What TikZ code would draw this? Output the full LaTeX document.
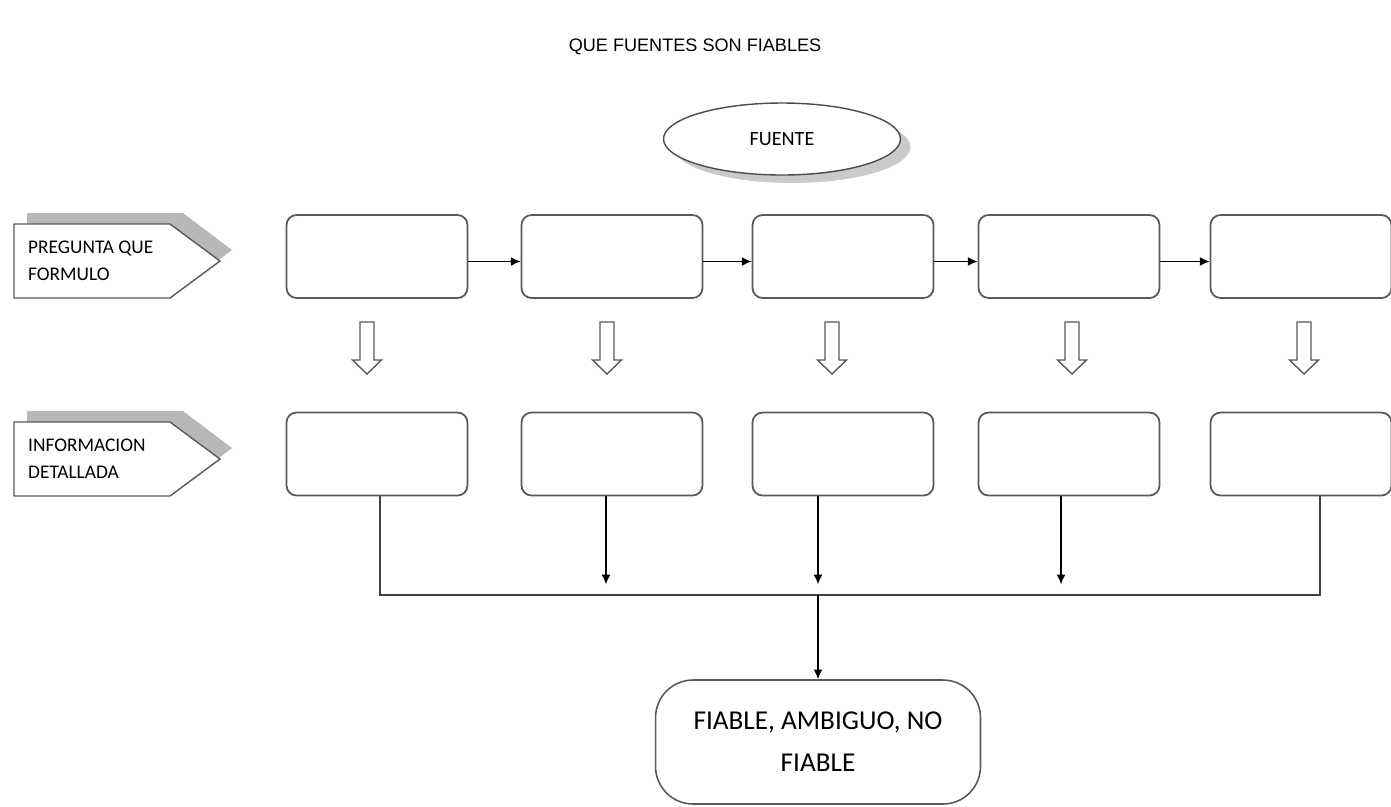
\documentclass[tikz,border=0pt]{standalone}
\usepackage{fontspec}
\setmainfont{Carlito}
\newfontfamily\arialfont{Liberation Sans}
\usetikzlibrary{shapes.geometric,shadows,arrows.meta}

\tikzset{
  caja/.style={draw=black!65, line width=1pt, rounded corners=0.2cm,
    minimum width=3.62cm, minimum height=1.66cm, fill=white},
  flecha/.style={line width=0.8pt, -{Latex[length=5.5pt,width=5pt]}},
  linea/.style={line width=0.8pt, draw=black!75},
  hueca/.style={draw=black!65, line width=0.8pt, fill=white},
  etiqueta/.style={draw=black!65, line width=0.8pt, fill=white},
  sombra/.style={fill=black!28, draw=none},
  texto/.style={anchor=west, align=left, font=\fontsize{11}{15.6}\selectfont},
}

\begin{document}
\begin{tikzpicture}[x=0.02cm,y=-0.02cm]
				%%%%% START %%%%%
				\def\yuno{256.5}
				\def\ydos{454}
				\def\ybus{595}
				\useasboundingbox (0,0) rectangle (1391,806);

				\node[font=\arialfont\fontsize{10.3}{12}\selectfont] (titulo) at (695,47) {QUE FUENTES SON FIABLES};

				\node[ellipse, draw=black!70, line width=0.8pt, fill=white, minimum width=4.74cm, minimum height=1.44cm,
				  drop shadow={shadow xshift=0.2cm, shadow yshift=-0.16cm, fill=black!35, opacity=0.6},
				  font=\fontsize{11.5}{14}\selectfont] (fuente) at (782,139) {FUENTE};

				% etiquetas de la izquierda
				\fill[sombra] (27,213) -- (183,213) -- (232,250) -- (183,287) -- (27,287) -- cycle;
				\draw[etiqueta] (14,224) -- (170,224) -- (220,261) -- (170,298) -- (14,298) -- cycle;
				\node[texto] (pregunta) at (22,261) {PREGUNTA QUE\\FORMULO};

				\fill[sombra] (27,411) -- (183,411) -- (232,448) -- (183,485) -- (27,485) -- cycle;
				\draw[etiqueta] (14,422) -- (170,422) -- (220,459) -- (170,496) -- (14,496) -- cycle;
				\node[texto] (informacion) at (22,459) {INFORMACION\\DETALLADA};

				% cajas
				\node[caja] (p1) at (377,\yuno) {};
				\node[caja] (p2) at (612,\yuno) {};
				\node[caja] (p3) at (843,\yuno) {};
				\node[caja] (p4) at (1069,\yuno) {};
				\node[caja] (p5) at (1301,\yuno) {};

				\node[caja] (i1) at (377,\ydos) {};
				\node[caja] (i2) at (612,\ydos) {};
				\node[caja] (i3) at (843,\ydos) {};
				\node[caja] (i4) at (1069,\ydos) {};
				\node[caja] (i5) at (1301,\ydos) {};

				\draw[flecha] ([yshift=-0.1cm]p1.east) -- ([yshift=-0.1cm]p2.west);
				\draw[flecha] ([yshift=-0.1cm]p2.east) -- ([yshift=-0.1cm]p3.west);
				\draw[flecha] ([yshift=-0.1cm]p3.east) -- ([yshift=-0.1cm]p4.west);
				\draw[flecha] ([yshift=-0.1cm]p4.east) -- ([yshift=-0.1cm]p5.west);

				% flechas huecas
				\foreach \x in {367,607,832,1072,1304}
				  \draw[hueca] (\x-7,322) -- (\x-7,360) -- (\x-14.5,360) -- (\x,374)
				    -- (\x+14.5,360) -- (\x+7,360) -- (\x+7,322) -- cycle;

				% bus
				\coordinate (bus) at (818,\ybus);
				\draw[linea] ([xshift=0.06cm]i1.south) |- (bus) -| ([xshift=0.38cm]i5.south);
				\draw[flecha] ([xshift=-0.12cm]i2.south) -- ++(0,88);
				\draw[flecha] (i3.south -| bus) -- ++(0,88);
				\draw[flecha] ([xshift=-0.16cm]i4.south) -- ++(0,88);

				\node[draw=black!65, line width=0.9pt, rounded corners=0.75cm,
				  minimum width=6.5cm, minimum height=2.48cm, align=center,
				  font=\fontsize{15.5}{23.8}\selectfont] (veredicto) at (818,742) {FIABLE, AMBIGUO, NO\\FIABLE};
				\draw[flecha] (bus) -- (veredicto);
				%%%%% START %%%%%
\end{tikzpicture}
\end{document}
